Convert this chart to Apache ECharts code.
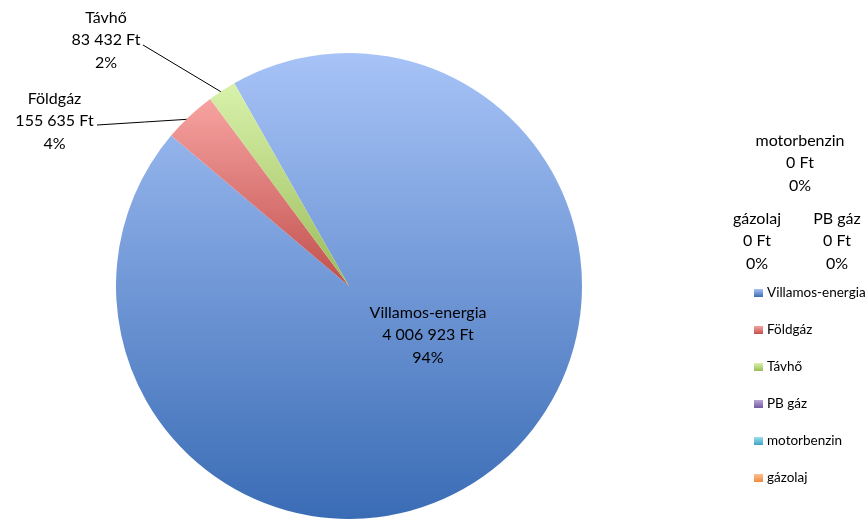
<!DOCTYPE html>
<html>
<head>
<meta charset="utf-8">
<script src="https://cdn.jsdelivr.net/npm/echarts@6/dist/echarts.min.js"></script>
<style>html,body{margin:0;padding:0;background:#fff}#c{width:868px;height:519px}</style>
</head>
<body>
<div id="c"></div>
<script>
var categories = ['Villamos-energia', 'Földgáz', 'Távhő', 'PB gáz', 'motorbenzin', 'gázolaj'];
var values = [4006923, 155635, 83432, 0, 0, 0];
var colorsLight = ['#a7c3f7', '#f7a3a1', '#d8f2ab', '#b9a6d6', '#9fdcee', '#fbc093'];
var colorsDark = ['#3a6cb5', '#c0504d', '#9bbb59', '#7459a0', '#3ba6c4', '#f08a3c'];

function grad(i) {
  return new echarts.graphic.LinearGradient(0, 0, 0, 1, [
    {offset: 0, color: colorsLight[i]},
    {offset: 1, color: colorsDark[i]}
  ]);
}
function fmt(v) {
  return String(v).replace(/\B(?=(\d{3})+(?!\d))/g, ' ');
}
var labelPos = {
  0: {x: 428, y: 335},
  1: {x: 54.5, y: 121, line: [[192, 119], [144.5, 122], [97, 125]]},
  2: {x: 106, y: 40, line: [[223, 93], [183, 69], [143, 45]]},
  3: {x: 837, y: 241},
  4: {x: 800, y: 163},
  5: {x: 757, y: 241}
};
var data = categories.map(function (c, i) {
  return {
    name: c,
    value: values[i],
    itemStyle: {color: grad(i)},
    labelLine: {show: i === 1 || i === 2}
  };
});
var chart = echarts.init(document.getElementById('c'), null, {renderer: 'canvas'});
chart.setOption({
  animation: false,
  legend: {
    orient: 'vertical',
    left: 749,
    top: 281,
    itemWidth: 9,
    itemHeight: 8,
    itemGap: 23.0,
    icon: 'rect',
    data: categories,
    textStyle: {fontFamily: 'Lato', fontSize: 13.5, color: '#000', lineHeight: 13, padding: [0, 0, 0, -1]},
    selectedMode: false
  },
  series: [{
    type: 'pie',
    center: [349, 286],
    radius: [0, 233],
    startAngle: 119.5,
    clockwise: true,
    percentPrecision: 0,
    avoidLabelOverlap: false,
    stillShowZeroSum: true,
    silent: true,
    data: data,
    label: {
      show: true,
      position: 'outside',
      fontFamily: 'Lato',
      fontSize: 16,
      lineHeight: 22.5,
      color: '#000',
      align: 'center',
      formatter: function (p) {
        return p.name + '\n' + fmt(p.value) + ' Ft\n' + p.percent + '%';
      }
    },
    labelLine: {show: true, lineStyle: {color: '#000', width: 1}},
    labelLayout: function (p) {
      var lp = labelPos[p.dataIndex];
      var r = {x: lp.x, y: lp.y, align: 'center', verticalAlign: 'middle'};
      if (lp.line) r.labelLinePoints = lp.line;
      return r;
    }
  }]
});
</script>
</body>
</html>
